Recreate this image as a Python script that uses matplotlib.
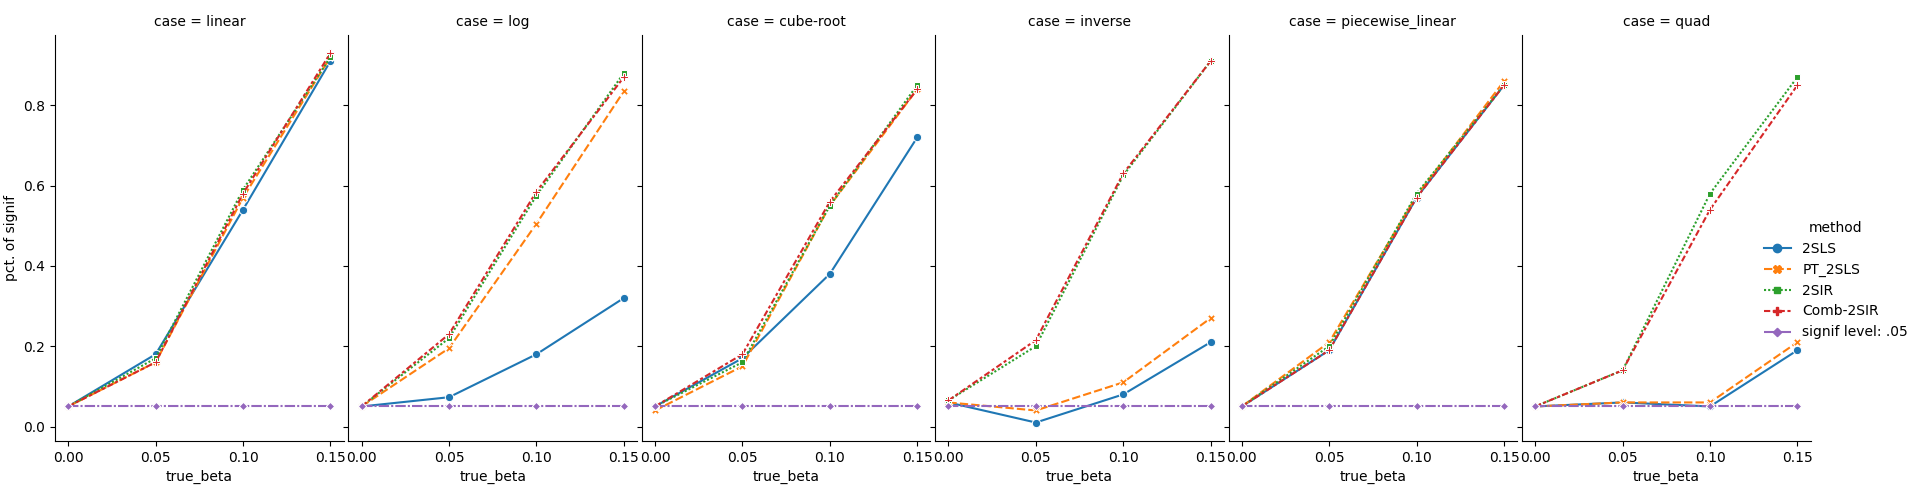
import numpy as np
import pandas as pd
import seaborn as sns
import matplotlib
matplotlib.use("Agg")
import matplotlib.pyplot as plt

betas = [0.0, 0.05, 0.10, 0.15]
cases = ["linear", "log", "cube-root", "inverse", "piecewise_linear", "quad"]
methods = ["2SLS", "PT_2SLS", "2SIR", "Comb-2SIR", "signif level: .05"]

vals = {
    "linear": {"2SLS": [0.05, 0.18, 0.54, 0.91], "PT_2SLS": [0.05, 0.16, 0.57, 0.92],
               "2SIR": [0.05, 0.17, 0.59, 0.92], "Comb-2SIR": [0.05, 0.16, 0.58, 0.93]},
    "log": {"2SLS": [0.05, 0.073, 0.18, 0.32], "PT_2SLS": [0.05, 0.195, 0.505, 0.835],
            "2SIR": [0.05, 0.22, 0.575, 0.88], "Comb-2SIR": [0.05, 0.23, 0.585, 0.87]},
    "cube-root": {"2SLS": [0.05, 0.17, 0.38, 0.72], "PT_2SLS": [0.04, 0.15, 0.55, 0.84],
                  "2SIR": [0.05, 0.16, 0.55, 0.85], "Comb-2SIR": [0.05, 0.18, 0.56, 0.84]},
    "inverse": {"2SLS": [0.06, 0.01, 0.08, 0.21], "PT_2SLS": [0.06, 0.04, 0.11, 0.27],
                "2SIR": [0.065, 0.20, 0.625, 0.91], "Comb-2SIR": [0.065, 0.215, 0.63, 0.91]},
    "piecewise_linear": {"2SLS": [0.05, 0.19, 0.57, 0.85], "PT_2SLS": [0.05, 0.21, 0.575, 0.86],
                         "2SIR": [0.05, 0.20, 0.58, 0.85], "Comb-2SIR": [0.05, 0.19, 0.57, 0.85]},
    "quad": {"2SLS": [0.05, 0.06, 0.05, 0.19], "PT_2SLS": [0.05, 0.06, 0.06, 0.21],
             "2SIR": [0.05, 0.14, 0.58, 0.87], "Comb-2SIR": [0.05, 0.14, 0.54, 0.85]},
}
signif = 0.05

rows = []
for c in cases:
    for m in methods:
        ys = vals[c][m] if m in vals[c] else [signif] * len(betas)
        for b, y in zip(betas, ys):
            rows.append({"case": c, "method": m, "true_beta": b, "pct. of signif": y})
df = pd.DataFrame(rows)

g = sns.relplot(data=df, x="true_beta", y="pct. of signif", hue="method", style="method",
                col="case", kind="line", markers=True, height=5, aspect=0.5)
g.set_titles("case = {col_name}")
fig = g.figure
fig.set_size_inches(19.2, 5)
fig.subplots_adjust(left=0.0287, right=0.943, top=0.931, bottom=0.118, wspace=0.017)
sns.move_legend(g, "center left", bbox_to_anchor=(0.912, 0.44), frameon=False)
for ax in g.axes.flat:
    ax.set_xticks([0.0, 0.05, 0.10, 0.15])
    ax.set_xticklabels(["0.00", "0.05", "0.10", "0.15"])
fig.savefig("out.png", dpi=100)
